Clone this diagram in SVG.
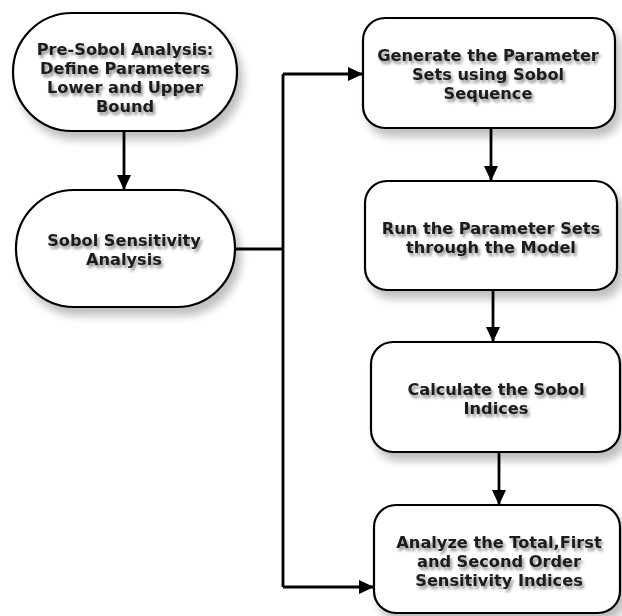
<svg xmlns="http://www.w3.org/2000/svg" width="622" height="616" viewBox="0 0 622 616">
<defs>
<filter id="shadow" x="-10%" y="-10%" width="130%" height="140%">
<feGaussianBlur in="SourceAlpha" stdDeviation="4.5"/>
<feOffset dx="5" dy="8" result="b"/>
<feComponentTransfer><feFuncA type="linear" slope="0.25"/></feComponentTransfer>
<feMerge><feMergeNode/><feMergeNode in="SourceGraphic"/></feMerge>
</filter>
<filter id="tshadow" x="-10%" y="-30%" width="130%" height="180%">
<feGaussianBlur in="SourceAlpha" stdDeviation="1.6"/>
<feOffset dx="2" dy="3" result="b"/>
<feComponentTransfer><feFuncA type="linear" slope="0.45"/></feComponentTransfer>
<feMerge><feMergeNode/><feMergeNode in="SourceGraphic"/></feMerge>
</filter>
<marker id="arr" markerUnits="userSpaceOnUse" markerWidth="16" markerHeight="16" refX="15" refY="8" orient="auto" viewBox="0 0 16 16">
<path d="M0,1 L15,8 L0,15 Z" fill="#000"/>
</marker>
</defs>
<style>
.box{fill:#fff;stroke:#000;stroke-width:2.2}
.lbl{font-family:"DejaVu Sans",Verdana,sans-serif;font-weight:bold;font-size:16.2px;fill:#1a1a1a;text-anchor:middle}
.con{fill:none;stroke:#000;stroke-width:2.8}
</style>
<rect width="622" height="616" fill="#fff"/>
<g id="connectors">
<path class="con" d="M124,131 L124,190" marker-end="url(#arr)"/>
<path class="con" d="M235,249 L283,249"/>
<path class="con" d="M283,74 L283,587"/>
<path class="con" d="M283,74 L363,74" marker-end="url(#arr)"/>
<path class="con" d="M283,587 L374,587" marker-end="url(#arr)"/>
<path class="con" d="M491,128 L491,181" marker-end="url(#arr)"/>
<path class="con" d="M493,290 L493,342" marker-end="url(#arr)"/>
<path class="con" d="M499,452 L499,505" marker-end="url(#arr)"/>
</g>
<g id="node-presobol">
<rect class="box" x="13" y="13" width="224" height="118" rx="59" ry="59" filter="url(#shadow)"/>
<g class="lbl" filter="url(#tshadow)">
<text x="125" y="55">Pre-Sobol Analysis:</text>
<text x="125" y="74">Define Parameters</text>
<text x="125" y="93">Lower and Upper</text>
<text x="125" y="112">Bound</text>
</g>
</g>
<g id="node-sobol">
<rect class="box" x="16" y="190" width="219" height="117" rx="58" ry="58" filter="url(#shadow)"/>
<g class="lbl" filter="url(#tshadow)">
<text x="124" y="246">Sobol Sensitivity</text>
<text x="124" y="265">Analysis</text>
</g>
</g>
<g id="node-generate">
<rect class="box" x="363" y="18" width="252" height="110" rx="22" ry="22" filter="url(#shadow)"/>
<g class="lbl" filter="url(#tshadow)">
<text x="488" y="61">Generate the Parameter</text>
<text x="488" y="80">Sets using Sobol</text>
<text x="488" y="99">Sequence</text>
</g>
</g>
<g id="node-run">
<rect class="box" x="365" y="181" width="252" height="109" rx="22" ry="22" filter="url(#shadow)"/>
<g class="lbl" filter="url(#tshadow)">
<text x="491" y="234">Run the Parameter Sets</text>
<text x="491" y="253">through the Model</text>
</g>
</g>
<g id="node-calc">
<rect class="box" x="371" y="342" width="249" height="110" rx="22" ry="22" filter="url(#shadow)"/>
<g class="lbl" filter="url(#tshadow)">
<text x="496" y="395">Calculate the Sobol</text>
<text x="496" y="414">Indices</text>
</g>
</g>
<g id="node-analyze">
<rect class="box" x="374" y="505" width="246" height="108" rx="22" ry="22" filter="url(#shadow)"/>
<g class="lbl" filter="url(#tshadow)">
<text x="499" y="548">Analyze the Total,First</text>
<text x="499" y="567">and Second Order</text>
<text x="499" y="586">Sensitivity Indices</text>
</g>
</g>
</svg>
